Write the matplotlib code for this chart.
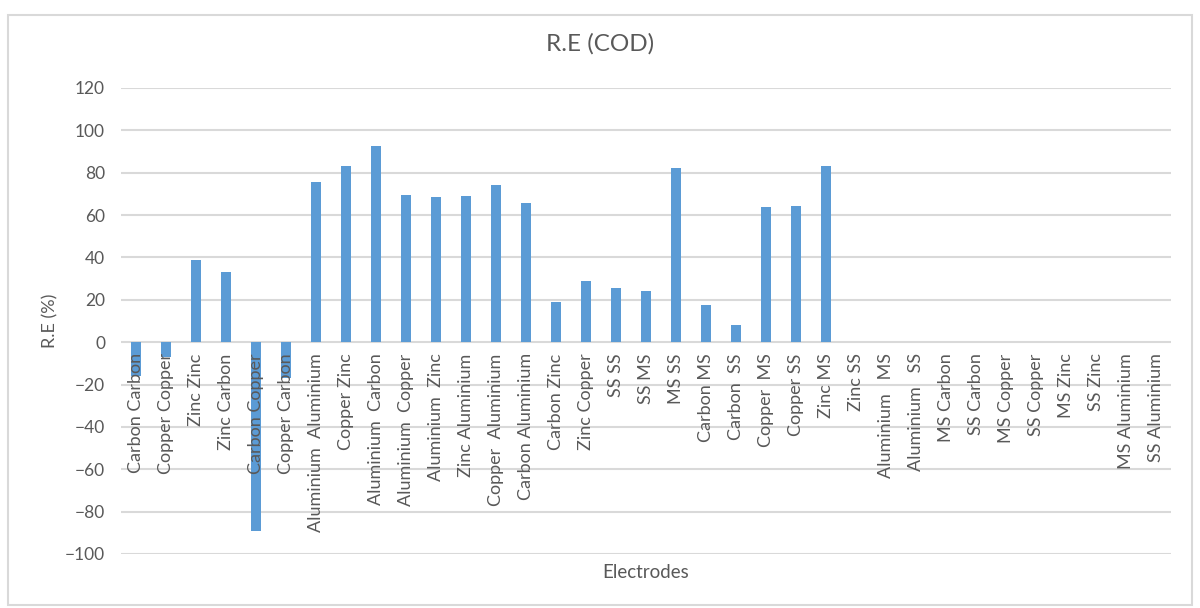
import matplotlib.pyplot as plt
from matplotlib.patches import Rectangle
import numpy as np

plt.rcParams['font.family'] = ['Lato', 'DejaVu Sans']

# electrode pairs and COD removal efficiency (%)
electrodes = [
    'Carbon Carbon', 'Copper Copper', 'Zinc Zinc', 'Zinc Carbon', 'Carbon Copper',
    'Copper Carbon', 'Aluminium  Aluminium', 'Copper Zinc', 'Aluminium  Carbon',
    'Aluminium  Copper', 'Aluminium  Zinc', 'Zinc Aluminium', 'Copper  Aluminium',
    'Carbon Aluminium', 'Carbon Zinc', 'Zinc Copper', 'SS SS', 'SS MS', 'MS SS',
    'Carbon MS', 'Carbon  SS', 'Copper  MS', 'Copper SS', 'Zinc MS', 'Zinc SS',
    'Aluminium   MS', 'Aluminium   SS', 'MS Carbon', 'SS Carbon', 'MS Copper',
    'SS Copper', 'MS Zinc', 'SS Zinc', 'MS Aluminium', 'SS Aluminium',
]
re_cod = [
    -16, -7, 39, 33, -89, -17, 75.5, 83, 92.5, 69.7, 68.7, 69.2, 74.2, 65.7,
    19, 29, 25.5, 24.1, 82.1, 17.6, 8.2, 63.7, 64.2, 83,
    0, 0, 0, 0, 0, 0, 0, 0, 0, 0, 0,
]

bar_color = '#5b9bd5'
text_color = '#595959'
grid_color = '#d9d9d9'

fig = plt.figure(figsize=(12, 6.08), dpi=100)
fig.patches.append(Rectangle((8 / 1200, 3 / 608), 1184 / 1200, 590 / 608,
                             transform=fig.transFigure, fill=False,
                             edgecolor=grid_color, linewidth=1.5))

ax = fig.add_axes([121 / 1200, 1 - 554 / 608, 1050 / 1200, (554 - 88) / 608])
x = np.arange(len(electrodes))
ax.bar(x, re_cod, width=0.31, color=bar_color, zorder=3)

ax.set_xlim(-0.5, len(electrodes) - 0.5)
ax.set_ylim(-100, 120)
ax.set_yticks(np.arange(-100, 121, 20))
ax.yaxis.grid(True, color=grid_color, linewidth=1.5, zorder=0)
ax.set_xticks([])
ax.tick_params(axis='y', length=0, labelsize=12.5, labelcolor=text_color, pad=11.5)
for s in ax.spines.values():
    s.set_visible(False)

# category labels sit just under the zero line
for xi, name in zip(x, electrodes):
    ax.annotate(name, xy=(xi, 0), xytext=(0, -8), textcoords='offset points',
                rotation=90, ha='center', va='top', fontsize=13,
                color=text_color, zorder=4)

fig.text(0.5, 1 - 44 / 608, 'R.E (COD)', fontsize=17.5, color=text_color,
         ha='center', va='center')
fig.text(50 / 1200, 1 - 321 / 608, 'R.E (%)', fontsize=13, color=text_color,
         rotation=90, ha='center', va='center')
fig.text(646 / 1200, 1 - 573 / 608, 'Electrodes', fontsize=13.5, color=text_color,
         ha='center', va='center')

fig.savefig('out.png', dpi=100)
